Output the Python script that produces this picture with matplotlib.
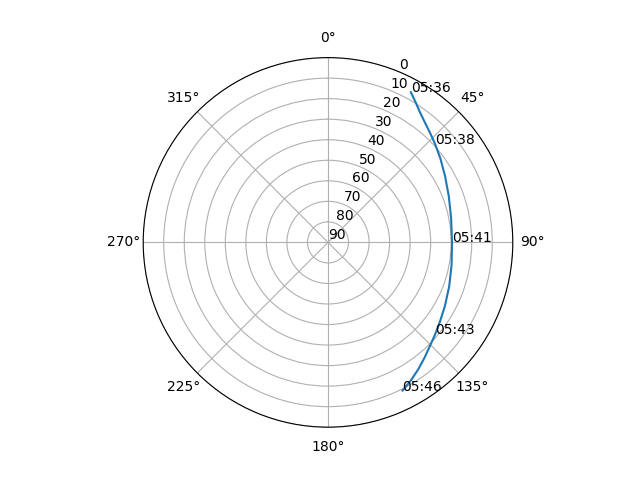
import numpy as np
import matplotlib
matplotlib.use('Agg')
import matplotlib.pyplot as plt

# pase del satelite, una muestra cada 30 s (05:36:00 - 05:46:00)
horas = ['05:36', '05:36', '05:37', '05:37', '05:38', '05:38', '05:39', '05:39',
         '05:40', '05:40', '05:41', '05:41', '05:42', '05:42', '05:43', '05:43',
         '05:44', '05:44', '05:45', '05:45', '05:46']
azimut = [28.9, 31.8, 35.0, 38.6, 42.8, 47.5, 53.5, 60.5, 69.0, 79.0, 90.0,
          100.5, 110.0, 118.5, 125.0, 130.5, 135.5, 140.0, 144.5, 149.0, 153.3]
elevacion = [6.5, 9.3, 12.2, 14.7, 17.0, 19.2, 21.8, 24.5, 27.0, 28.9, 29.6,
             28.8, 27.2, 25.2, 23.3, 21.3, 19.2, 16.8, 14.2, 11.6, 9.2]
cada = 5

fig = plt.figure(figsize=(6.4, 4.8))
ax = plt.subplot(111, projection='polar')
ax.set_theta_zero_location('N')
ax.set_theta_direction(-1)
theta = np.radians(azimut)
ax.plot(theta, elevacion)
for i in range(0, len(horas), cada):
    ax.text(theta[i], elevacion[i], horas[i])
ax.set_ylim(90, 0)
ax.set_yticks(range(0, 91, 10))
plt.savefig('out.png', dpi=100)
